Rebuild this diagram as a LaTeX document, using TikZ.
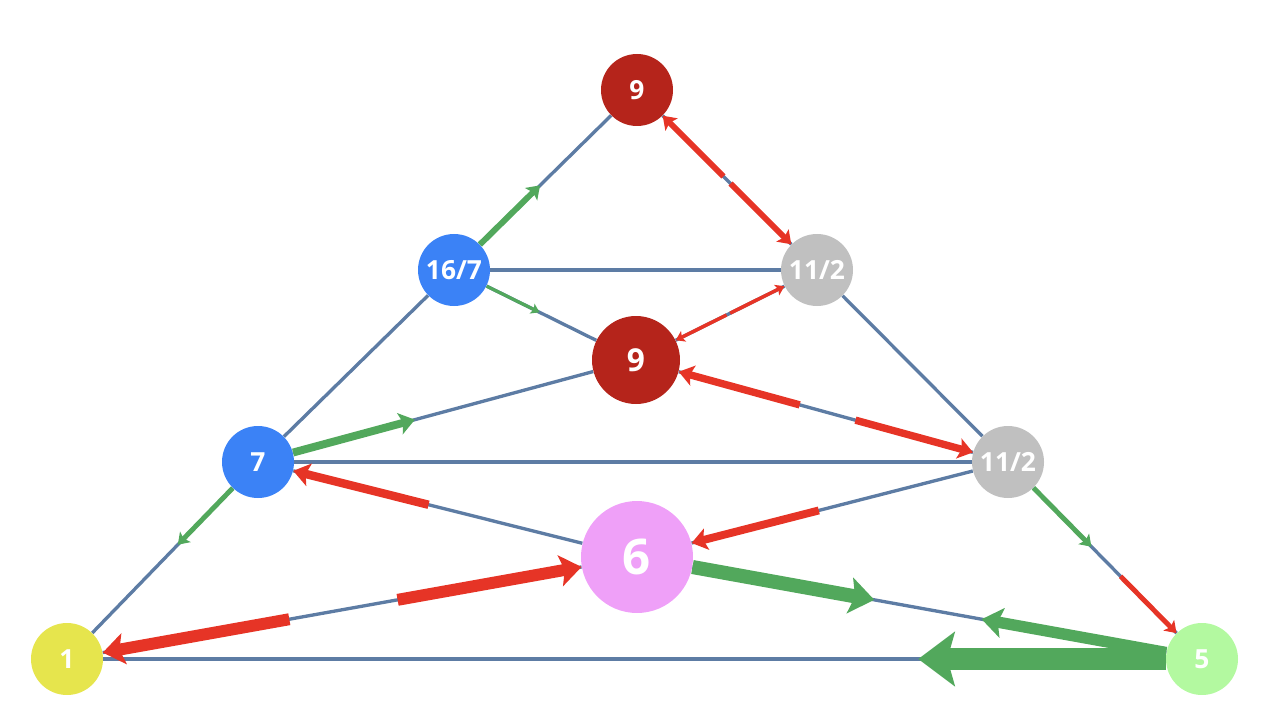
\documentclass[tikz,border=0pt]{standalone}
\usepackage{fontspec}
\setmainfont{Open Sans}
\usetikzlibrary{calc,arrows.meta}
\definecolor{darkred}{RGB}{181,36,27}
\definecolor{vblue}{RGB}{59,130,246}
\definecolor{vgray}{RGB}{192,192,192}
\definecolor{vpink}{RGB}{239,160,248}
\definecolor{vyellow}{RGB}{230,229,77}
\definecolor{vlgreen}{RGB}{179,249,160}
\definecolor{linkblue}{RGB}{93,124,164}
\definecolor{flowgreen}{RGB}{82,168,92}
\definecolor{flowred}{RGB}{230,52,38}

\begin{document}
\begin{tikzpicture}[
  vert/.style={circle,minimum size=1.44cm,inner sep=0pt,text=white,font=\fontsize{15}{17}\selectfont\bfseries},
  link/.style={draw=linkblue,line width=1.9pt},
  gflow/.style={draw=flowgreen,line width=#1,-{Stealth[length=2pt 1.5,width=2pt 2.3,inset=0.5pt 0.3]}},
  rflow/.style={draw=flowred,line width=#1,-{Stealth[length=2pt 1.5,width=2pt 2.3,inset=0.5pt 0.3]}}
]
\useasboundingbox (0,0) rectangle (25.4,14.48);

\node[vert,fill=darkred] (t9) at (12.74,12.68) {9};
\node[vert,fill=vblue] (a167) at (9.08,9.08) {16/7};
\node[vert,fill=vgray] (b112) at (16.34,9.08) {11/2};
\node[vert,fill=darkred,minimum size=1.76cm,font=\fontsize{18}{20}\selectfont\bfseries] (m9) at (12.72,7.28) {9};
\node[vert,fill=vblue] (n7) at (5.16,5.24) {7};
\node[vert,fill=vgray] (c112) at (20.16,5.24) {11/2};
\node[vert,fill=vpink,minimum size=2.24cm,font=\fontsize{28}{30}\selectfont\bfseries] (n6) at (12.74,3.34) {6};
\node[vert,fill=vyellow] (n1) at (1.34,1.30) {1};
\node[vert,fill=vlgreen] (n5) at (24.04,1.30) {5};

\draw[link] (t9) -- (a167);
\draw[link] (t9) -- (b112);
\draw[link] (a167) -- (b112);
\draw[link] (a167) -- (m9);
\draw[link] (b112) -- (m9);
\draw[link] (a167) -- (n7);
\draw[link] (b112) -- (c112);
\draw[link] (n7) -- (m9);
\draw[link] (m9) -- (c112);
\draw[link] (n7) -- (c112);
\draw[link] (n7) -- (n1);
\draw[link] (n7) -- (n6);
\draw[link] (c112) -- (n6);
\draw[link] (c112) -- (n5);
\draw[link] (n1) -- (n6);
\draw[link] (n6) -- (n5);
\draw[link] (n1) -- (n5);

\draw[gflow=3.4pt] (a167) -- ($(a167)!0.47!(t9)$);
\draw[rflow=3.4pt] ($(t9)!0.48!(b112)$) -- (t9);
\draw[rflow=3.4pt] ($(t9)!0.52!(b112)$) -- (b112);
\draw[gflow=1.8pt] (a167) -- ($(a167)!0.47!(m9)$);
\draw[rflow=2pt] ($(m9)!0.5!(b112)$) -- (m9);
\draw[rflow=2pt] ($(m9)!0.52!(b112)$) -- (b112);
\draw[gflow=4.5pt] (n7) -- ($(n7)!0.415!(m9)$);
\draw[rflow=4.2pt] ($(m9)!0.44!(c112)$) -- (m9);
\draw[rflow=4.2pt] ($(m9)!0.59!(c112)$) -- (c112);
\draw[gflow=2.8pt] (n7) -- ($(n7)!0.42!(n1)$);
\draw[rflow=4.8pt] ($(n6)!0.55!(n7)$) -- (n7);
\draw[rflow=4.5pt] ($(c112)!0.51!(n6)$) -- (n6);
\draw[gflow=2.8pt] (c112) -- ($(c112)!0.43!(n5)$);
\draw[rflow=2.8pt] ($(c112)!0.58!(n5)$) -- (n5);
\draw[rflow=6.8pt] ($(n6)!0.61!(n1)$) -- (n1);
\draw[rflow=6.8pt] ($(n1)!0.58!(n6)$) -- (n6);
\draw[gflow=8pt] (n6) -- ($(n6)!0.42!(n5)$);
\draw[gflow=6.5pt] (n5) -- ($(n5)!0.39!(n6)$);
\draw[gflow=12.5pt] (n5) -- ($(n5)!0.25!(n1)$);

\end{tikzpicture}
\end{document}
